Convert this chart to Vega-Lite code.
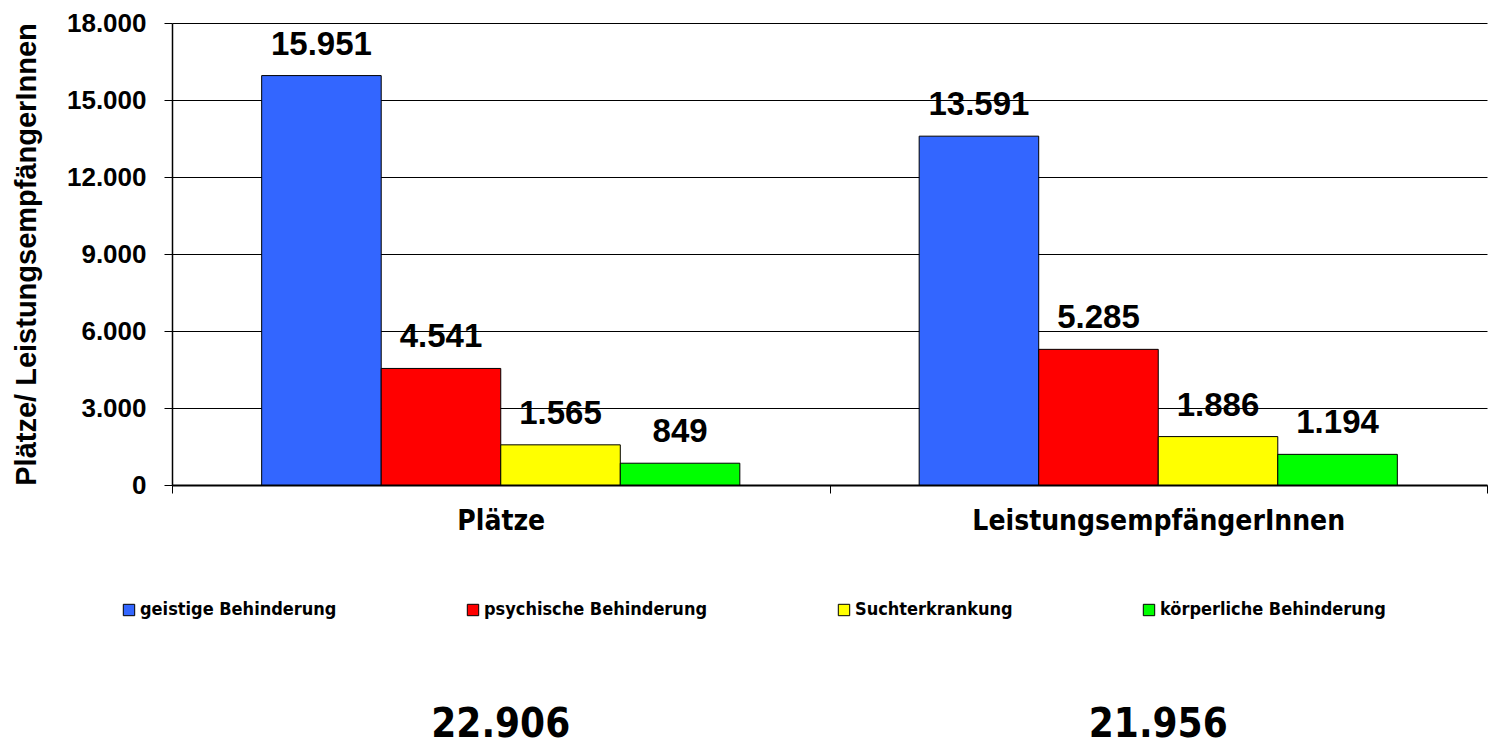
{
  "$schema": "https://vega.github.io/schema/vega-lite/v6.json",
  "padding": {"left": 12, "top": 10, "right": 0, "bottom": 0},
  "background": "white",
  "config": {
    "view": {"stroke": null},
    "font": "Liberation Sans",
    "locale": {"number": {"decimal": ",", "thousands": ".", "grouping": [3], "currency": ["", " €"]}}
  },
  "datasets": {
    "bars": [
      {"group": "Plätze", "category": "geistige Behinderung", "value": 15951},
      {"group": "Plätze", "category": "psychische Behinderung", "value": 4541},
      {"group": "Plätze", "category": "Suchterkrankung", "value": 1565},
      {"group": "Plätze", "category": "körperliche Behinderung", "value": 849},
      {"group": "LeistungsempfängerInnen", "category": "geistige Behinderung", "value": 13591},
      {"group": "LeistungsempfängerInnen", "category": "psychische Behinderung", "value": 5285},
      {"group": "LeistungsempfängerInnen", "category": "Suchterkrankung", "value": 1886},
      {"group": "LeistungsempfängerInnen", "category": "körperliche Behinderung", "value": 1194}
    ],
    "totals": [
      {"group": "Plätze", "total": 22906},
      {"group": "LeistungsempfängerInnen", "total": 21956}
    ]
  },
  "resolve": {"legend": {"color": "independent"}, "scale": {"color": "independent", "x": "independent"}},
  "spacing": 81,
  "vconcat": [
    {
      "width": 1315,
      "height": 462,
      "data": {"name": "bars"},
      "encoding": {
        "x": {
          "field": "group", "type": "nominal",
          "sort": ["Plätze", "LeistungsempfängerInnen"],
          "scale": {"paddingInner": 0, "paddingOuter": 0},
          "axis": {
            "title": null, "labelAngle": 0, "tickBand": "extent", "labelLimit": 0,
            "labelFont": "'DejaVu Sans Condensed', 'Liberation Sans', sans-serif", "labelFontSize": 28, "labelFontWeight": "bold",
            "labelColor": "black", "domainColor": "black", "domainWidth": 2, "tickColor": "black",
            "tickSize": 8, "labelPadding": 14, "grid": false
          }
        },
        "xOffset": {
          "field": "category", "type": "nominal",
          "sort": ["geistige Behinderung", "psychische Behinderung", "Suchterkrankung", "körperliche Behinderung"],
          "scale": {"paddingInner": 0, "paddingOuter": 0.75}
        },
        "y": {
          "field": "value", "type": "quantitative",
          "scale": {"domain": [0, 18000], "nice": false},
          "axis": {
            "title": "Plätze/ LeistungsempfängerInnen",
            "titleFontSize": 29, "titleFontWeight": "bold", "titleColor": "black", "titlePadding": 25,
            "values": [0, 3000, 6000, 9000, 12000, 15000, 18000],
            "format": ",d",
            "labelFontSize": 26, "labelFontWeight": "bold", "labelColor": "black", "labelPadding": 18,
            "tickSize": 8, "tickColor": "black", "domainColor": "black", "domainWidth": 1.5,
            "grid": true, "gridColor": "black", "gridOpacity": 1, "gridWidth": 1
          }
        }
      },
      "layer": [
        {
          "mark": {"type": "bar", "stroke": "black", "strokeWidth": 1},
          "encoding": {
            "color": {
              "field": "category", "type": "nominal",
              "sort": ["geistige Behinderung", "psychische Behinderung", "Suchterkrankung", "körperliche Behinderung"],
              "scale": {
                "domain": ["geistige Behinderung", "psychische Behinderung", "Suchterkrankung", "körperliche Behinderung"],
                "range": ["#3366FF", "#FF0000", "#FFFF00", "#00FF00"]
              },
              "legend": {
                "title": null, "orient": "none", "legendX": -52, "legendY": 578,
                "direction": "horizontal", "columns": 4, "columnPadding": 127, "labelLimit": 0,
                "labelFont": "'DejaVu Sans Condensed', 'Liberation Sans', sans-serif", "labelFontSize": 18, "labelFontWeight": "bold", "labelColor": "black",
                "labelOffset": 2, "symbolType": "square", "symbolSize": 130,
                "symbolStrokeColor": "black", "symbolStrokeWidth": 1, "symbolOpacity": 1
              }
            }
          }
        },
        {
          "mark": {"type": "text", "baseline": "bottom", "dy": -14, "fontSize": 33, "fontWeight": "bold", "color": "black"},
          "encoding": {"text": {"field": "value", "type": "quantitative", "format": ",d"}}
        }
      ]
    },
    {
      "width": 1315,
      "height": 50,
      "data": {"name": "totals"},
      "mark": {"type": "text", "font": "'DejaVu Sans Condensed', 'Liberation Sans', sans-serif", "fontSize": 40, "fontWeight": "bold", "baseline": "middle", "color": "black"},
      "encoding": {
        "x": {
          "field": "group", "type": "nominal",
          "sort": ["Plätze", "LeistungsempfängerInnen"],
          "scale": {"paddingInner": 0, "paddingOuter": 0},
          "axis": null
        },
        "text": {"field": "total", "type": "quantitative", "format": ",d"}
      }
    }
  ]
}
